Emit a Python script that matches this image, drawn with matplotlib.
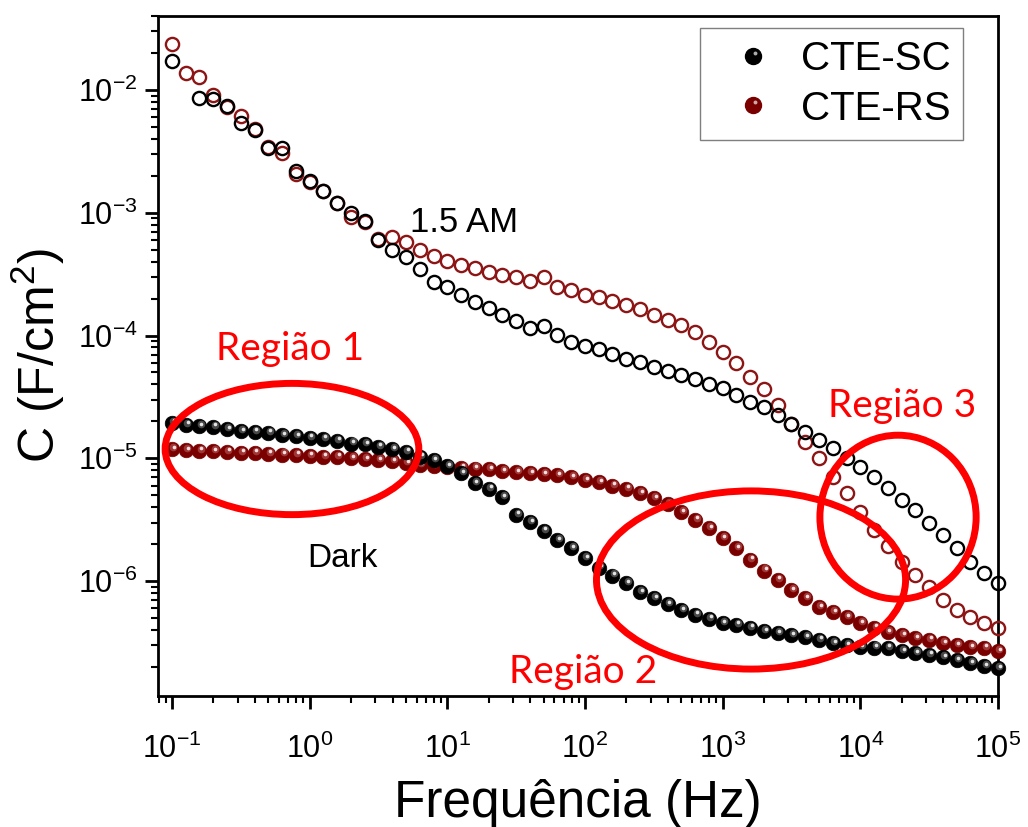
import numpy as np
import matplotlib
matplotlib.use('Agg')
import matplotlib.pyplot as plt
from matplotlib.patches import Ellipse
from matplotlib.lines import Line2D
from matplotlib.legend_handler import HandlerBase
from matplotlib.transforms import offset_copy
from matplotlib.ticker import LogLocator, NullFormatter

plt.rcParams['font.family'] = ['Liberation Sans', 'DejaVu Sans']
plt.rcParams['mathtext.fontset'] = 'custom'
plt.rcParams['mathtext.rm'] = 'Liberation Sans'
plt.rcParams['mathtext.it'] = 'Liberation Sans:italic'
plt.rcParams['mathtext.bf'] = 'Liberation Sans:bold'

# Frequencias (Hz), 10 pontos por decada
freq_hz = [0.1, 0.126, 0.158, 0.2, 0.251, 0.316, 0.398, 0.501, 0.631, 0.794,
           1, 1.26, 1.58, 2, 2.51, 3.16, 3.98, 5.01, 6.31, 7.94,
           10, 12.6, 15.8, 20, 25.1, 31.6, 39.8, 50.1, 63.1, 79.4,
           100, 126, 158, 200, 251, 316, 398, 501, 631, 794,
           1000, 1260, 1580, 2000, 2510, 3160, 3980, 5010, 6310, 7940,
           10000, 12600, 15800, 20000, 25100, 31600, 39800, 50100, 63100, 79400,
           100000]

# Escuro (Dark)
dark_sc = [1.93e-5, 1.86e-5, 1.82e-5, 1.79e-5, 1.72e-5, 1.66e-5, 1.63e-5, 1.60e-5, 1.54e-5, 1.51e-5,
           1.46e-5, 1.43e-5, 1.38e-5, 1.32e-5, 1.30e-5, 1.23e-5, 1.18e-5, 1.12e-5, 1.02e-5, 9.6e-6,
           8.6e-6, 7.55e-6, 6.25e-6, 5.6e-6, 4.81e-6, 3.44e-6, 3.01e-6, 2.55e-6, 2.15e-6, 1.85e-6,
           1.53e-6, 1.29e-6, 1.11e-6, 9.6e-7, 8.1e-7, 7.24e-7, 6.47e-7, 5.78e-7, 5.27e-7, 4.89e-7,
           4.53e-7, 4.37e-7, 4.13e-7, 3.90e-7, 3.76e-7, 3.62e-7, 3.48e-7, 3.30e-7, 3.11e-7, 3.00e-7,
           2.89e-7, 2.87e-7, 2.84e-7, 2.68e-7, 2.58e-7, 2.49e-7, 2.39e-7, 2.26e-7, 2.14e-7, 2.02e-7,
           1.95e-7]
dark_rs = [1.18e-5, 1.16e-5, 1.15e-5, 1.14e-5, 1.12e-5, 1.11e-5, 1.10e-5, 1.08e-5, 1.07e-5, 1.06e-5,
           1.04e-5, 1.03e-5, 1.02e-5, 1.00e-5, 9.8e-6, 9.6e-6, 9.45e-6, 9.1e-6, 8.77e-6, 8.6e-6,
           8.45e-6, 8.3e-6, 8.25e-6, 8.14e-6, 7.84e-6, 7.69e-6, 7.55e-6, 7.41e-6, 7.27e-6, 7.0e-6,
           6.62e-6, 6.38e-6, 5.92e-6, 5.6e-6, 5.19e-6, 4.72e-6, 4.22e-6, 3.63e-6, 3.13e-6, 2.69e-6,
           2.23e-6, 1.85e-6, 1.48e-6, 1.22e-6, 1.02e-6, 8.4e-7, 7.24e-7, 6.12e-7, 5.57e-7, 5.07e-7,
           4.53e-7, 4.13e-7, 3.83e-7, 3.62e-7, 3.42e-7, 3.30e-7, 3.11e-7, 3.00e-7, 2.89e-7, 2.84e-7,
           2.68e-7]

# Iluminado (1.5 AM)
luz_sc = [1.72e-2, np.nan, 8.6e-3, 8.45e-3, 7.41e-3, 5.38e-3, 4.72e-3, 3.37e-3, 3.37e-3, 2.19e-3,
          1.82e-3, 1.51e-3, 1.20e-3, 9.95e-4, 8.57e-4, 6.0e-4, 4.98e-4, 4.37e-4, 3.48e-4, 2.73e-4,
          2.49e-4, 2.14e-4, 1.88e-4, 1.68e-4, 1.47e-4, 1.32e-4, 1.15e-4, 1.20e-4, 1.01e-4, 8.87e-5,
          8.22e-5, 7.78e-5, 7.08e-5, 6.45e-5, 6.09e-5, 5.55e-5, 5.15e-5, 4.77e-5, 4.43e-5, 4.04e-5,
          3.74e-5, 3.28e-5, 2.88e-5, 2.62e-5, 2.26e-5, 1.90e-5, 1.64e-5, 1.41e-5, 1.22e-5, 1.01e-5,
          8.5e-6, 7.06e-6, 5.74e-6, 4.58e-6, 3.80e-6, 2.98e-6, 2.38e-6, 1.86e-6, 1.43e-6, 1.17e-6,
          9.66e-7]
luz_rs = [2.37e-2, 1.38e-2, 1.28e-2, 9.1e-3, 7.27e-3, 6.14e-3, 4.81e-3, 3.44e-3, 3.07e-3, 2.07e-3,
          1.78e-3, 1.51e-3, 1.20e-3, 9.25e-4, 8.41e-4, 6.12e-4, 6.35e-4, 5.78e-4, 4.98e-4, 4.45e-4,
          4.05e-4, 3.76e-4, 3.55e-4, 3.30e-4, 3.11e-4, 3.00e-4, 2.78e-4, 3.00e-4, 2.49e-4, 2.35e-4,
          2.14e-4, 2.06e-4, 1.91e-4, 1.77e-4, 1.65e-4, 1.47e-4, 1.34e-4, 1.22e-4, 1.07e-4, 8.87e-5,
          7.35e-5, 5.98e-5, 4.60e-5, 3.67e-5, 2.72e-5, 1.90e-5, 1.36e-5, 1.01e-5, 7.06e-6, 5.23e-6,
          3.66e-6, 2.61e-6, 1.94e-6, 1.43e-6, 1.12e-6, 8.97e-7, 7.03e-7, 5.83e-7, 5.11e-7, 4.57e-7,
          4.16e-7]

x_ticks = [0.1, 1, 10, 100, 1000, 10000, 100000]
y_ticks = [1e-6, 1e-5, 1e-4, 1e-3, 1e-2]

cor_sc = '#000000'
cor_rs = '#7a0000'
cor_rs_open = '#8e1515'
vermelho = '#ff0000'

fig = plt.figure(figsize=(10.28, 8.27), dpi=100)
ax = fig.add_axes([0.1537, 0.1584, 0.8171, 0.8223])
ax.set_xscale('log')
ax.set_yscale('log')

# curvas 1.5 AM (circulos abertos)
ax.plot(freq_hz, luz_rs, 'o', ms=9.5, mfc='none', mec=cor_rs_open, mew=1.7, ls='none', clip_on=False, zorder=3)
ax.plot(freq_hz, luz_sc, 'o', ms=9.5, mfc='none', mec=cor_sc, mew=1.7, ls='none', clip_on=False, zorder=3)

# curvas escuro (esferas)
brilho = offset_copy(ax.transData, fig=fig, x=1.0, y=1.6, units='points')
brilho2 = offset_copy(ax.transData, fig=fig, x=1.3, y=2.0, units='points')
for dados, cor, luz in [(dark_rs, cor_rs, '#e8a0a0'), (dark_sc, cor_sc, '#d0d0d0')]:
    ax.plot(freq_hz, dados, 'o', ms=10.5, mfc=cor, mec=cor, mew=0.5, ls='none', clip_on=False, zorder=4)
    ax.plot(freq_hz, dados, 'o', ms=5.5, mfc=luz, mec='none', alpha=0.35, ls='none',
            clip_on=False, zorder=4, transform=brilho)
    ax.plot(freq_hz, dados, 'o', ms=2.6, mfc='white', mec='none', alpha=0.85, ls='none',
            clip_on=False, zorder=4, transform=brilho2)

ax.set_xlim(0.0791, 1e5)
ax.set_ylim(1.16e-7, 4.0e-2)

ax.set_xticks(x_ticks)
ax.set_yticks(y_ticks)
ax.xaxis.set_minor_locator(LogLocator(base=10, subs=np.arange(2, 10), numticks=20))
ax.yaxis.set_minor_locator(LogLocator(base=10, subs=np.arange(2, 10), numticks=20))
ax.xaxis.set_minor_formatter(NullFormatter())
ax.yaxis.set_minor_formatter(NullFormatter())

ax.tick_params(which='major', direction='out', length=9.5, width=2, labelsize=22, top=False, right=False)
ax.tick_params(which='minor', direction='out', length=5, width=1.5, top=False, right=False)
ax.tick_params(axis='x', which='major', pad=18)
ax.tick_params(axis='y', which='major', pad=5)
for s in ax.spines.values():
    s.set_linewidth(2)

ax.set_xlabel('Frequência (Hz)', fontsize=37, labelpad=10)
ax.set_ylabel('C (F/cm$^2$)', fontsize=36, labelpad=8)

# elipses das regioes
for (cx, cy, w, h) in [(0.1595, 0.3632, 0.302, 0.193), (0.706, 0.1706, 0.368, 0.262), (0.881, 0.263, 0.186, 0.241)]:
    ax.add_patch(Ellipse((cx, cy), w, h, transform=ax.transAxes, fill=False, ec=vermelho, lw=5,
                         clip_on=False, zorder=5))

reg_font = ['Lato', 'DejaVu Sans']
ax.text(0.157, 0.494, 'Região 1', transform=ax.transAxes, ha='center', va='baseline', fontsize=28,
        color=vermelho, family=reg_font)
ax.text(0.506, 0.019, 'Região 2', transform=ax.transAxes, ha='center', va='baseline', fontsize=28,
        color=vermelho, family=reg_font)
ax.text(0.886, 0.410, 'Região 3', transform=ax.transAxes, ha='center', va='baseline', fontsize=28,
        color=vermelho, family=reg_font)
ax.text(0.364, 0.682, '1.5 AM', transform=ax.transAxes, ha='center', va='baseline', fontsize=25)
ax.text(0.219, 0.190, 'Dark', transform=ax.transAxes, ha='center', va='baseline', fontsize=24)


# legenda com esferas (marcador com brilho deslocado)
class HandlerEsfera(HandlerBase):
    def create_artists(self, legend, orig_handle, xdescent, ydescent, width, height, fontsize, trans):
        cor = orig_handle.get_markerfacecolor()
        cx = width / 2 - xdescent
        cy = height / 2 - ydescent
        base = Line2D([cx], [cy], marker='o', ms=11.5, mfc=cor, mec=cor, ls='none', transform=trans)
        spot = Line2D([cx + 1.8], [cy + 2.2], marker='o', ms=2.8, mfc='#e6e6e6', mec='none',
                      alpha=0.75, ls='none', transform=trans)
        return [base, spot]


h_sc = Line2D([], [], marker='o', mfc=cor_sc, ls='none')
h_rs = Line2D([], [], marker='o', mfc=cor_rs, ls='none')
leg = ax.legend([h_sc, h_rs], ['CTE-SC', 'CTE-RS'],
                handler_map={Line2D: HandlerEsfera()},
                loc='upper right', bbox_to_anchor=(0.958, 0.982), borderaxespad=0,
                fontsize=29, frameon=True, fancybox=False, framealpha=1, edgecolor='#7f7f7f',
                handlelength=2.0, handletextpad=0.2, borderpad=0.3, labelspacing=0.28)
leg.get_frame().set_linewidth(1.0)

fig.savefig('out.png', dpi=100)
